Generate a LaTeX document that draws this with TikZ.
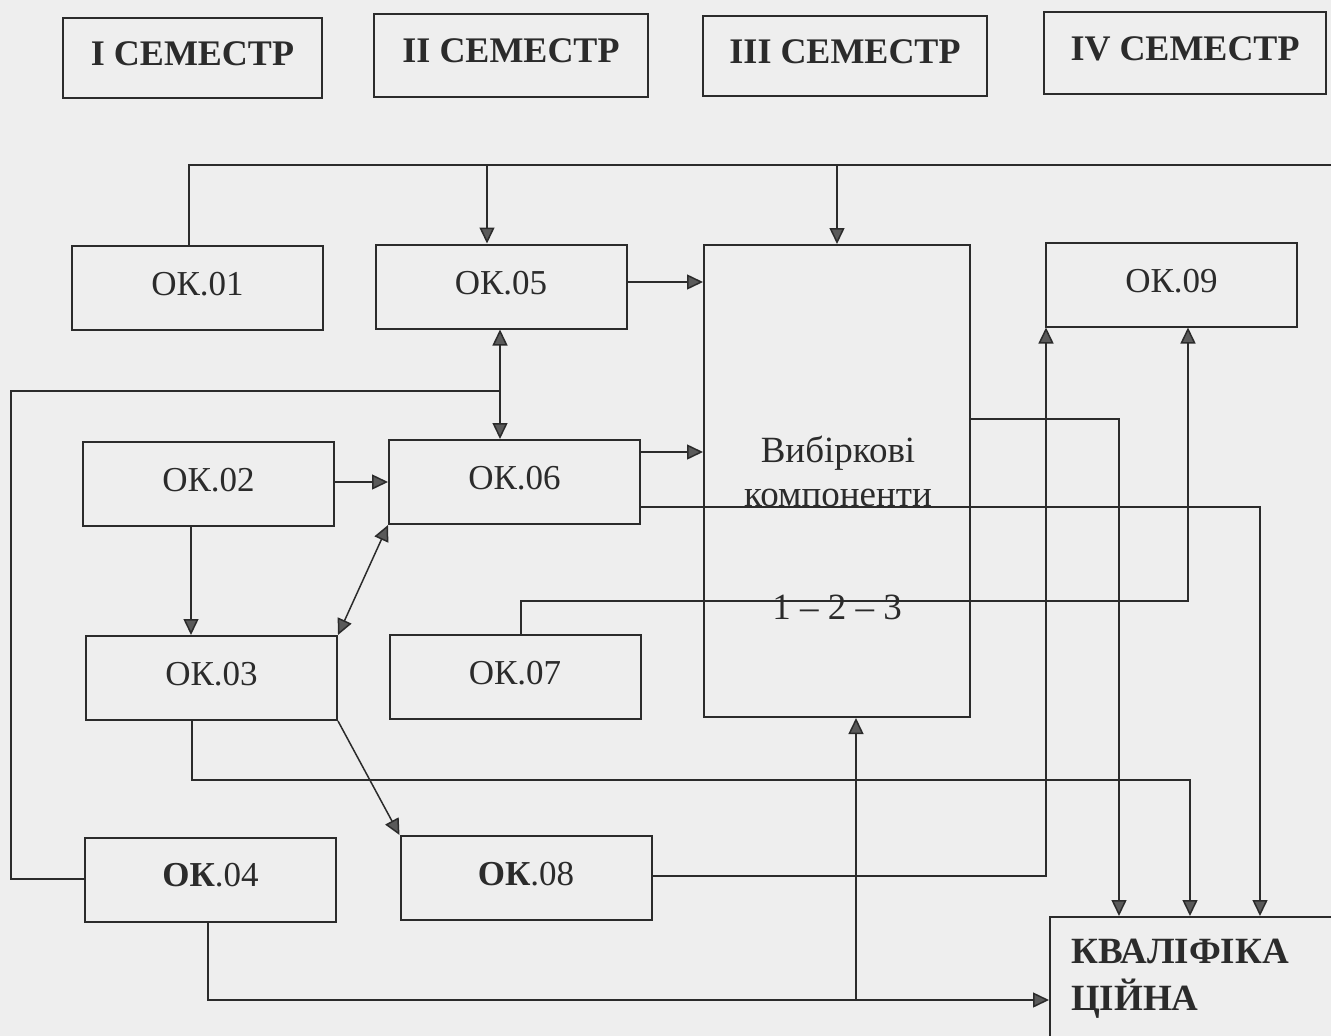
\documentclass[tikz,border=0pt]{standalone}
\usepackage{fontspec}
\setmainfont{Liberation Serif}
\usetikzlibrary{arrows.meta}
\definecolor{ln}{HTML}{2B2B2B}
\definecolor{tipc}{HTML}{5A5A5A}
\definecolor{bg}{HTML}{EEEEEE}
\begin{document}
\begin{tikzpicture}[x=1pt,y=-1pt,
  box/.style={draw=ln, line width=2pt, inner sep=0pt, text=ln},
  sembox/.style={box, font=\fontsize{36}{40}\selectfont\bfseries},
  okbox/.style={box, minimum width=251pt, minimum height=84pt, font=\fontsize{35}{40}\selectfont},
  txt/.style={inner sep=0pt, text=ln},
  conn/.style={draw=ln, line width=1.5pt},
  tip/.tip={Triangle[length=16pt,width=15pt,fill=tipc]},
  arr/.style={conn, -tip},
  darr/.style={conn, tip-tip}]
\path[use as bounding box, fill=bg] (0,0) rectangle (1331,1036);

% semester headers
\node[sembox, minimum width=259pt, minimum height=80pt] (s1) at (192.5,58) {\raisebox{8pt}{I СЕМЕСТР}};
\node[sembox, minimum width=274pt, minimum height=83pt] (s2) at (511,55.5) {\raisebox{9pt}{II СЕМЕСТР}};
\node[sembox, minimum width=284pt, minimum height=80pt] (s3) at (845,56) {\raisebox{8pt}{III СЕМЕСТР}};
\node[sembox, minimum width=282pt, minimum height=82pt] (s4) at (1185,53) {\raisebox{8pt}{IV СЕМЕСТР}};

% course boxes
\node[okbox] (ok01) at (197.5,288) {\raisebox{8pt}{ОК.01}};
\node[okbox] (ok05) at (501,286.5) {\raisebox{7pt}{ОК.05}};
\node[okbox] (ok09) at (1171.5,284.5) {\raisebox{7pt}{ОК.09}};
\node[okbox] (ok02) at (208.5,484) {\raisebox{8pt}{ОК.02}};
\node[okbox] (ok06) at (514.5,482) {\raisebox{8pt}{ОК.06}};
\node[okbox] (ok03) at (211.5,678) {\raisebox{8pt}{ОК.03}};
\node[okbox] (ok07) at (515,676.5) {\raisebox{8pt}{ОК.07}};
\node[okbox] (ok04) at (210.5,879.5) {\raisebox{9pt}{{\bfseries ОК}.04}};
\node[okbox] (ok08) at (526,878) {\raisebox{8pt}{{\bfseries ОК}.08}};

% elective block
\node[box, minimum width=266pt, minimum height=472pt] (ele) at (837,481) {};
\node[txt, anchor=base, font=\fontsize{37}{40}\selectfont] (e1) at (838,462) {Вибіркові};
\node[txt, anchor=base, font=\fontsize{37}{40}\selectfont] (e2) at (838,506) {компоненти};
\node[txt, anchor=base, font=\fontsize{37}{40}\selectfont] (e3) at (837,619) {1 – 2 – 3};

% qualification block (runs off the page)
\node[box, line width=2.4pt, anchor=north west, minimum width=400pt, minimum height=220pt] (kval) at (1049,916) {};
\node[txt, anchor=north west, align=left, font=\fontsize{37}{47}\selectfont\bfseries] (kt) at (1071,939) {КВАЛІФІКА\\ЦІЙНА};

% connectors
\coordinate (tr) at (1331,165);
\draw[conn] (ok01.north -| 189,0) |- (tr);
\draw[arr] (487,0 |- tr) -- (487,0 |- ok05.north);
\draw[arr] (ele.north |- tr) -- (ele.north);
\draw[arr] (ok05.east |- 0,282) -- (ele.west |- 0,282);

\coordinate (j1) at (500,391);
\draw[darr] (500,0 |- ok05.south) -- (500,0 |- ok06.north);
\draw[conn] (ok04.west |- 0,879) -| (11,0 |- j1) -- (j1);

\draw[arr] (ok02.east |- 0,482) -- (ok06.west |- 0,482);
\draw[arr] (ok06.east |- 0,452) -- (ele.west |- 0,452);
\draw[arr] (ok06.east |- 0,507) -| (1260,0 |- kval.north);

\draw[arr] (ok02.south -| 191,0) -- (191,0 |- ok03.north);
\draw[darr] (ok06.south west) -- (ok03.north east);

\draw[arr] (ok07.north -| 521,0) |- (1188,601) -- (1188,0 |- ok09.south);
\draw[arr] (ok03.south -| 192,0) |- (1190,780) -- (1190,0 |- kval.north);
\draw[arr] (ok03.south east) -- (ok08.north west);
\draw[arr] (ok08.east |- 0,876) -| (1046,0 |- ok09.south);

\coordinate (j2) at (856,1000);
\draw[arr] (ok04.south -| 208,0) |- (kval.west |- j2);
\draw[arr] (j2) -- (j2 |- ele.south);
\draw[arr] (ele.east |- 0,419) -| (1119,0 |- kval.north);
\end{tikzpicture}
\end{document}
